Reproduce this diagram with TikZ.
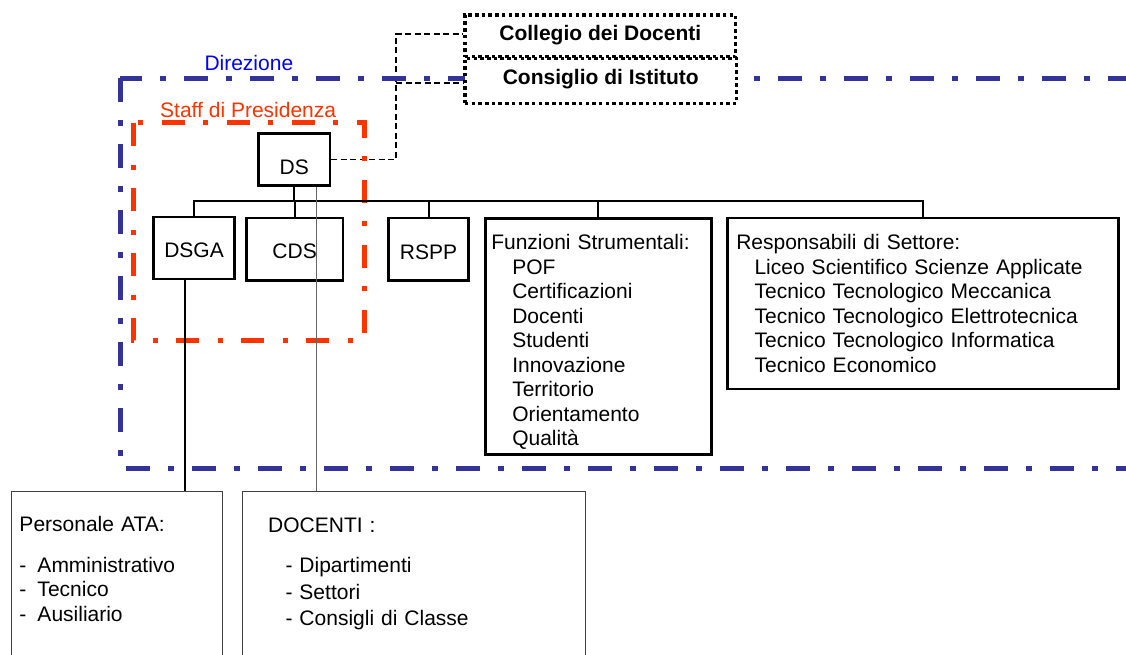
\documentclass[tikz,border=0pt]{standalone}
\usepackage{fontspec}
\setmainfont{Liberation Sans}
\definecolor{dirblue}{HTML}{333399}
\definecolor{dirlabel}{HTML}{0000FF}
\definecolor{staffred}{HTML}{FF3300}
\pgfdeclarelayer{paper}
\pgfdeclarelayer{under}
\pgfsetlayers{paper,under,main}
\begin{document}
\begin{tikzpicture}[x=1pt,y=-1pt,
  font=\fontsize{21}{24.5}\selectfont,
  obox/.style={draw, line width=2.5pt, fill=white, inner sep=0pt, anchor=north west},
  listbox/.style={draw, line width=2.5pt, fill=white, inner ysep=0pt, anchor=north west, align=left},
  lowbox/.style={draw=black!75, line width=1pt, fill=white, inner ysep=0pt, anchor=north west, align=left},
  dotbox/.style={draw, line width=3.3pt, dash pattern=on 3.5pt off 3.2pt, fill=white, inner sep=0pt,
    anchor=north west, font=\fontsize{21}{24.5}\selectfont\bfseries},
  dirframe/.style={draw=dirblue, line width=5pt, dash pattern=on 24pt off 18pt on 6pt off 18pt},
  staffframe/.style={draw=staffred, line width=5pt, dash pattern=on 23pt off 19pt on 5pt off 18pt},
  framelabel/.style={inner sep=0pt, anchor=base west},
  link/.style={draw, line width=2pt},
  downlink/.style={draw, line width=1.3pt},
  thinlink/.style={draw=black!60, line width=1pt},
  dlink/.style={draw, line width=1.4pt, dash pattern=on 6pt off 3.5pt}]
\useasboundingbox (0,0) rectangle (1126,655);
\begin{pgfonlayer}{paper}
\fill[white] (0,0) rectangle (1126,655);
\end{pgfonlayer}

% frames
\draw[dirframe] (120,78.3) rectangle (1160,468.3);
\draw[staffframe] (133.3,122.7) rectangle (364.3,340);
\node[framelabel, text=dirlabel] (dirlab) at (204.3,71) {Direzione};
\node[framelabel, text=staffred] (stafflab) at (160,117.7) {Staff di Presidenza};

% boxes
\node[obox, minimum width=71.4pt, text height=41pt, text depth=11pt] (ds) at (257.3,132.3) {DS};
\node[dotbox, minimum width=270.7pt, text height=26pt, text depth=15.7pt] (coll) at (463.3,13.3) {Collegio dei Docenti};
\node[dotbox, minimum width=271.7pt, text height=26pt, text depth=19pt] (cons) at (463.3,56.7) {Consiglio di Istituto};

\node[obox, minimum width=81pt, text height=41pt, text depth=21pt] (dsga) at (152.3,215.7) {DSGA};
\node[obox, minimum width=96.7pt, text height=40.6pt, text depth=21.7pt] (cds) at (245,216.7) {CDS};
\node[obox, minimum width=80pt, text height=42pt, text depth=20.3pt] (rspp) at (387.3,216.7) {RSPP};

\node[listbox, inner xsep=6pt, text width=214pt, text height=31.3pt, text depth=204.7pt] (funz) at (484,217)
  {Funzioni Strumentali:\\
   \hspace*{21pt}POF\\
   \hspace*{21pt}Certificazioni\\
   \hspace*{21pt}Docenti\\
   \hspace*{21pt}Studenti\\
   \hspace*{21pt}Innovazione\\
   \hspace*{21pt}Territorio\\
   \hspace*{21pt}Orientamento\\
   \hspace*{21pt}Qualità};

\node[listbox, inner xsep=9pt, text width=373.3pt, text height=31.6pt, text depth=139.4pt] (resp) at (726,216.7)
  {Responsabili di Settore:\\
   \hspace*{18.3pt}Liceo Scientifico Scienze Applicate\\
   \hspace*{18.3pt}Tecnico Tecnologico Meccanica\\
   \hspace*{18.3pt}Tecnico Tecnologico Elettrotecnica\\
   \hspace*{18.3pt}Tecnico Tecnologico Informatica\\
   \hspace*{18.3pt}Tecnico Economico};

\node[lowbox, inner xsep=8pt, text width=194.7pt, text height=40pt, text depth=200pt] (ata) at (11,491)
  {Personale ATA:\\[16.2pt]
   \makebox[18pt][l]{-}Amministrativo\\
   \makebox[18pt][l]{-}Tecnico\\
   \makebox[18pt][l]{-}Ausiliario};

\node[lowbox, inner xsep=25.4pt, text width=291.9pt, text height=40.7pt, text depth=200pt,
      font=\fontsize{21}{26.5}\selectfont] (doc) at (242.3,491)
  {DOCENTI :\\[14.1pt]
   \hspace*{17.3pt}- Dipartimenti\\
   \hspace*{17.3pt}- Settori\\
   \hspace*{17.3pt}- Consigli di Classe};

% dashed links to the councils (beneath the frames)
\begin{pgfonlayer}{under}
\coordinate (j1) at (396,34);
\coordinate (j2) at (396,83);
\draw[dlink] (ds.east) -| (j1) -- (j1 -| coll.west);
\draw[dlink] (j2) -- (j2 -| cons.west);
\end{pgfonlayer}

% connectors
\coordinate (bus) at (0,201);
\draw[link] (ds.south) -- (ds.south |- bus);
\draw[link] (dsga.north) -- (dsga.north |- bus) -| (resp.north);
\draw[link] (cds.north) -- (cds.north |- bus);
\draw[link] (rspp.north) -- (rspp.north |- bus);
\draw[link] (funz.north) -- (funz.north |- bus);

\draw[downlink] ([xshift=-9.1pt]dsga.south) -- ([xshift=-9.1pt]dsga.south |- ata.north);
\draw[thinlink] ([xshift=22.7pt]ds.south) -- ([xshift=22.7pt]ds.south |- doc.north);
\end{tikzpicture}
\end{document}
